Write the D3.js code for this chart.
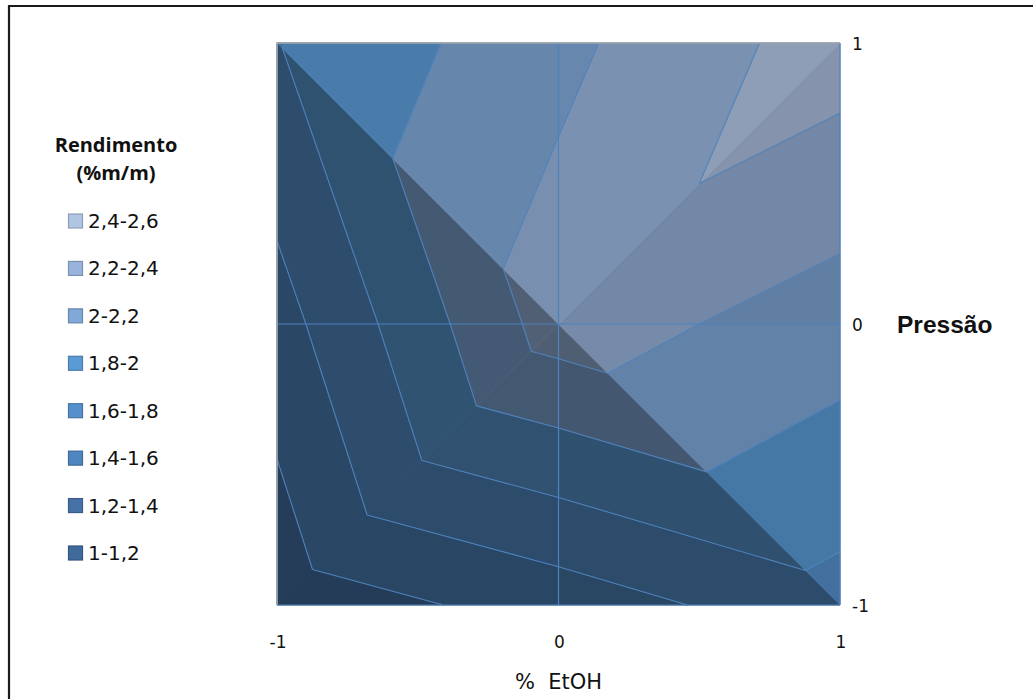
<!DOCTYPE html>
<html>
<head>
<meta charset="utf-8">
<script src="https://cdn.jsdelivr.net/npm/d3@7"></script>
<style>
  html, body { margin: 0; padding: 0; background: #fff; }
  svg { display: block; }
  text { white-space: pre; }
</style>
</head>
<body>
<svg id="chart" width="1033" height="699"></svg>
<script>
// % EtOH levels (columns) and Pressão levels (rows)
const etoh = [-1, 0, 1];
const pressao = [-1, 0, 1];

// Rendimento (%m/m) for each Pressão row, across % EtOH = -1, 0, 1
const rendPressaoMenos1 = [1.27, 1.49, 1.73];
const rendPressao0 = [1.52, 2.30, 2.10];
const rendPressao1 = [1.79, 2.15, 2.50];

// Contour band limits and their legend labels
const bandBreaks = [1.0, 1.2, 1.4, 1.6, 1.8, 2.0, 2.2, 2.4, 2.6];
const bandLabels = ["1-1,2", "1,2-1,4", "1,4-1,6", "1,6-1,8", "1,8-2", "2-2,2", "2,2-2,4", "2,4-2,6"];

// Tick labels of both axes
const etohTicks = ["-1", "0", "1"];
const pressaoTicks = ["-1", "0", "1"];

// Band colours (lowest to highest) and styling
const bandColors = ["#3e6b9c", "#4672a8", "#4f86bf", "#5690cc", "#5b9bd5", "#80a8d8", "#98b4dc", "#b0c4e4"];
const lineColor = "#4d82bd";
const zScale2 = 3.77; // squared vertical exaggeration used for the surface lighting

const grid = [rendPressaoMenos1, rendPressao0, rendPressao1]; // grid[row=pressão][col=etoh]

const svg = d3.select("#chart");
const x = d3.scaleLinear().domain([-1, 1]).range([277, 840]);
const y = d3.scaleLinear().domain([-1, 1]).range([605, 43]);

// chart frame
svg.append("path")
  .attr("d", "M9,720 L9,6 L1060,6")
  .attr("fill", "none").attr("stroke", "#1a1a1a").attr("stroke-width", 2.2);

// --- build triangles: every cell is split along the diagonal that passes through the grid centre
const tris = [];
for (let j = 0; j < pressao.length - 1; j++) {
  for (let i = 0; i < etoh.length - 1; i++) {
    const p = (ii, jj) => ({ x: etoh[ii], y: pressao[jj], v: grid[jj][ii] });
    const p00 = p(i, j), p10 = p(i + 1, j), p01 = p(i, j + 1), p11 = p(i + 1, j + 1);
    if ((i + j) % 2 === 0) {
      tris.push([p00, p10, p11], [p00, p11, p01]);
    } else {
      tris.push([p00, p10, p01], [p10, p11, p01]);
    }
  }
}

// clip a polygon (vertices carry a linear value v) to v >= level (sign=1) or v <= level (sign=-1)
function clip(poly, level, sign) {
  const out = [];
  for (let k = 0; k < poly.length; k++) {
    const P = poly[k], Q = poly[(k + 1) % poly.length];
    const pin = sign * (P.v - level) >= 0, qin = sign * (Q.v - level) >= 0;
    if (pin) out.push(P);
    if (pin !== qin) {
      const t = (level - P.v) / (Q.v - P.v);
      out.push({ x: P.x + t * (Q.x - P.x), y: P.y + t * (Q.y - P.y), v: level });
    }
  }
  return out;
}

// lighting: brightness from the slope of each triangular facet
function brightness(t) {
  const [a, b, c] = t;
  const det = (b.x - a.x) * (c.y - a.y) - (c.x - a.x) * (b.y - a.y);
  const gx = ((b.v - a.v) * (c.y - a.y) - (c.v - a.v) * (b.y - a.y)) / det;
  const gy = ((c.v - a.v) * (b.x - a.x) - (b.v - a.v) * (c.x - a.x)) / det;
  return 1 / Math.sqrt(1 + zScale2 * (gx * gx + gy * gy));
}

function shade(col, k) {
  const c = d3.rgb(col);
  return d3.rgb(c.r * k, c.g * k, c.b * k).formatHex();
}

const line = d3.line().x(d => x(d.x)).y(d => y(d.y));
const surface = svg.append("g");

tris.forEach(t => {
  const k = brightness(t);
  for (let b = 0; b < bandColors.length; b++) {
    let poly = clip(t, bandBreaks[b], 1);
    if (poly.length) poly = clip(poly, bandBreaks[b + 1], -1);
    if (poly.length < 3) continue;
    const fill = shade(bandColors[b], k);
    surface.append("path")
      .attr("d", line(poly) + "Z")
      .attr("fill", fill)
      .attr("stroke", fill)
      .attr("stroke-width", 0.9)
      .attr("stroke-linejoin", "round");
  }
});

// gridlines
const gridG = svg.append("g");
etoh.forEach(v => gridG.append("line")
  .attr("x1", x(v)).attr("x2", x(v)).attr("y1", y(-1)).attr("y2", y(1))
  .attr("stroke", lineColor).attr("stroke-width", 1.2));
pressao.forEach(v => gridG.append("line")
  .attr("x1", x(-1)).attr("x2", x(1)).attr("y1", y(v)).attr("y2", y(v))
  .attr("stroke", lineColor).attr("stroke-width", 1.2));

// contour lines
const contourG = svg.append("g");
bandBreaks.slice(1, -1).forEach(level => {
  tris.forEach(t => {
    const pts = [];
    for (let k = 0; k < 3; k++) {
      const P = t[k], Q = t[(k + 1) % 3];
      if ((P.v - level) * (Q.v - level) < 0) {
        const s = (level - P.v) / (Q.v - P.v);
        pts.push({ x: P.x + s * (Q.x - P.x), y: P.y + s * (Q.y - P.y) });
      }
    }
    if (pts.length === 2) {
      contourG.append("path").attr("d", line(pts))
        .attr("fill", "none").attr("stroke", lineColor).attr("stroke-width", 1.1);
    }
  });
});

// plot edge on the top and left
svg.append("path")
  .attr("d", `M${x(-1)},${y(-1)} L${x(-1)},${y(1)} L${x(1)},${y(1)}`)
  .attr("fill", "none").attr("stroke", "#a9a9a9").attr("stroke-width", 1.5);

// % EtOH axis labels
const tickFont = "'DejaVu Sans', Verdana, sans-serif";
svg.append("g").selectAll("text").data(etoh).join("text")
  .attr("x", d => x(d) + 1).attr("y", 648)
  .attr("text-anchor", "middle")
  .attr("font-family", tickFont).attr("font-size", 17).attr("fill", "#111")
  .text((d, i) => etohTicks[i]);

svg.append("text")
  .attr("x", x(0)).attr("y", 689)
  .attr("text-anchor", "middle")
  .attr("font-family", tickFont).attr("font-size", 21).attr("fill", "#111")
  .text("%  EtOH");

// Pressão axis labels
svg.append("g").selectAll("text").data(pressao).join("text")
  .attr("x", 852).attr("y", d => y(d) + 7)
  .attr("font-family", tickFont).attr("font-size", 17).attr("fill", "#111")
  .text((d, i) => pressaoTicks[i]);

svg.append("text")
  .attr("x", 897).attr("y", y(0) + 9)
  .attr("font-family", "'Liberation Sans', Arial, sans-serif")
  .attr("font-weight", "bold").attr("font-size", 24.5).attr("fill", "#111")
  .text("Pressão");

// legend
const legend = svg.append("g");
legend.append("text").attr("x", 116).attr("y", 152).attr("text-anchor", "middle")
  .attr("font-family", "'Open Sans', sans-serif").attr("font-weight", "bold")
  .attr("font-size", 20).attr("fill", "#111").text("Rendimento");
legend.append("text").attr("x", 116).attr("y", 180).attr("text-anchor", "middle")
  .attr("font-family", "'Open Sans', sans-serif").attr("font-weight", "bold")
  .attr("font-size", 20).attr("fill", "#111").text("(%m/m)");

const rowY = d3.scaleLinear().domain([bandColors.length - 1, 0]).range([221, 553]);
const rows = legend.selectAll("g.row").data(d3.range(bandColors.length)).join("g")
  .attr("transform", d => `translate(0,${rowY(d)})`);
rows.append("rect")
  .attr("x", 68.5).attr("y", -7).attr("width", 14).attr("height", 14)
  .attr("fill", d => bandColors[d])
  .attr("stroke", d => d3.rgb(bandColors[d]).darker(0.6).formatHex())
  .attr("stroke-width", 1.2);
rows.append("text")
  .attr("x", 88).attr("y", 7)
  .attr("font-family", tickFont).attr("font-size", 20).attr("fill", "#111")
  .text(d => bandLabels[d]);
</script>
</body>
</html>
